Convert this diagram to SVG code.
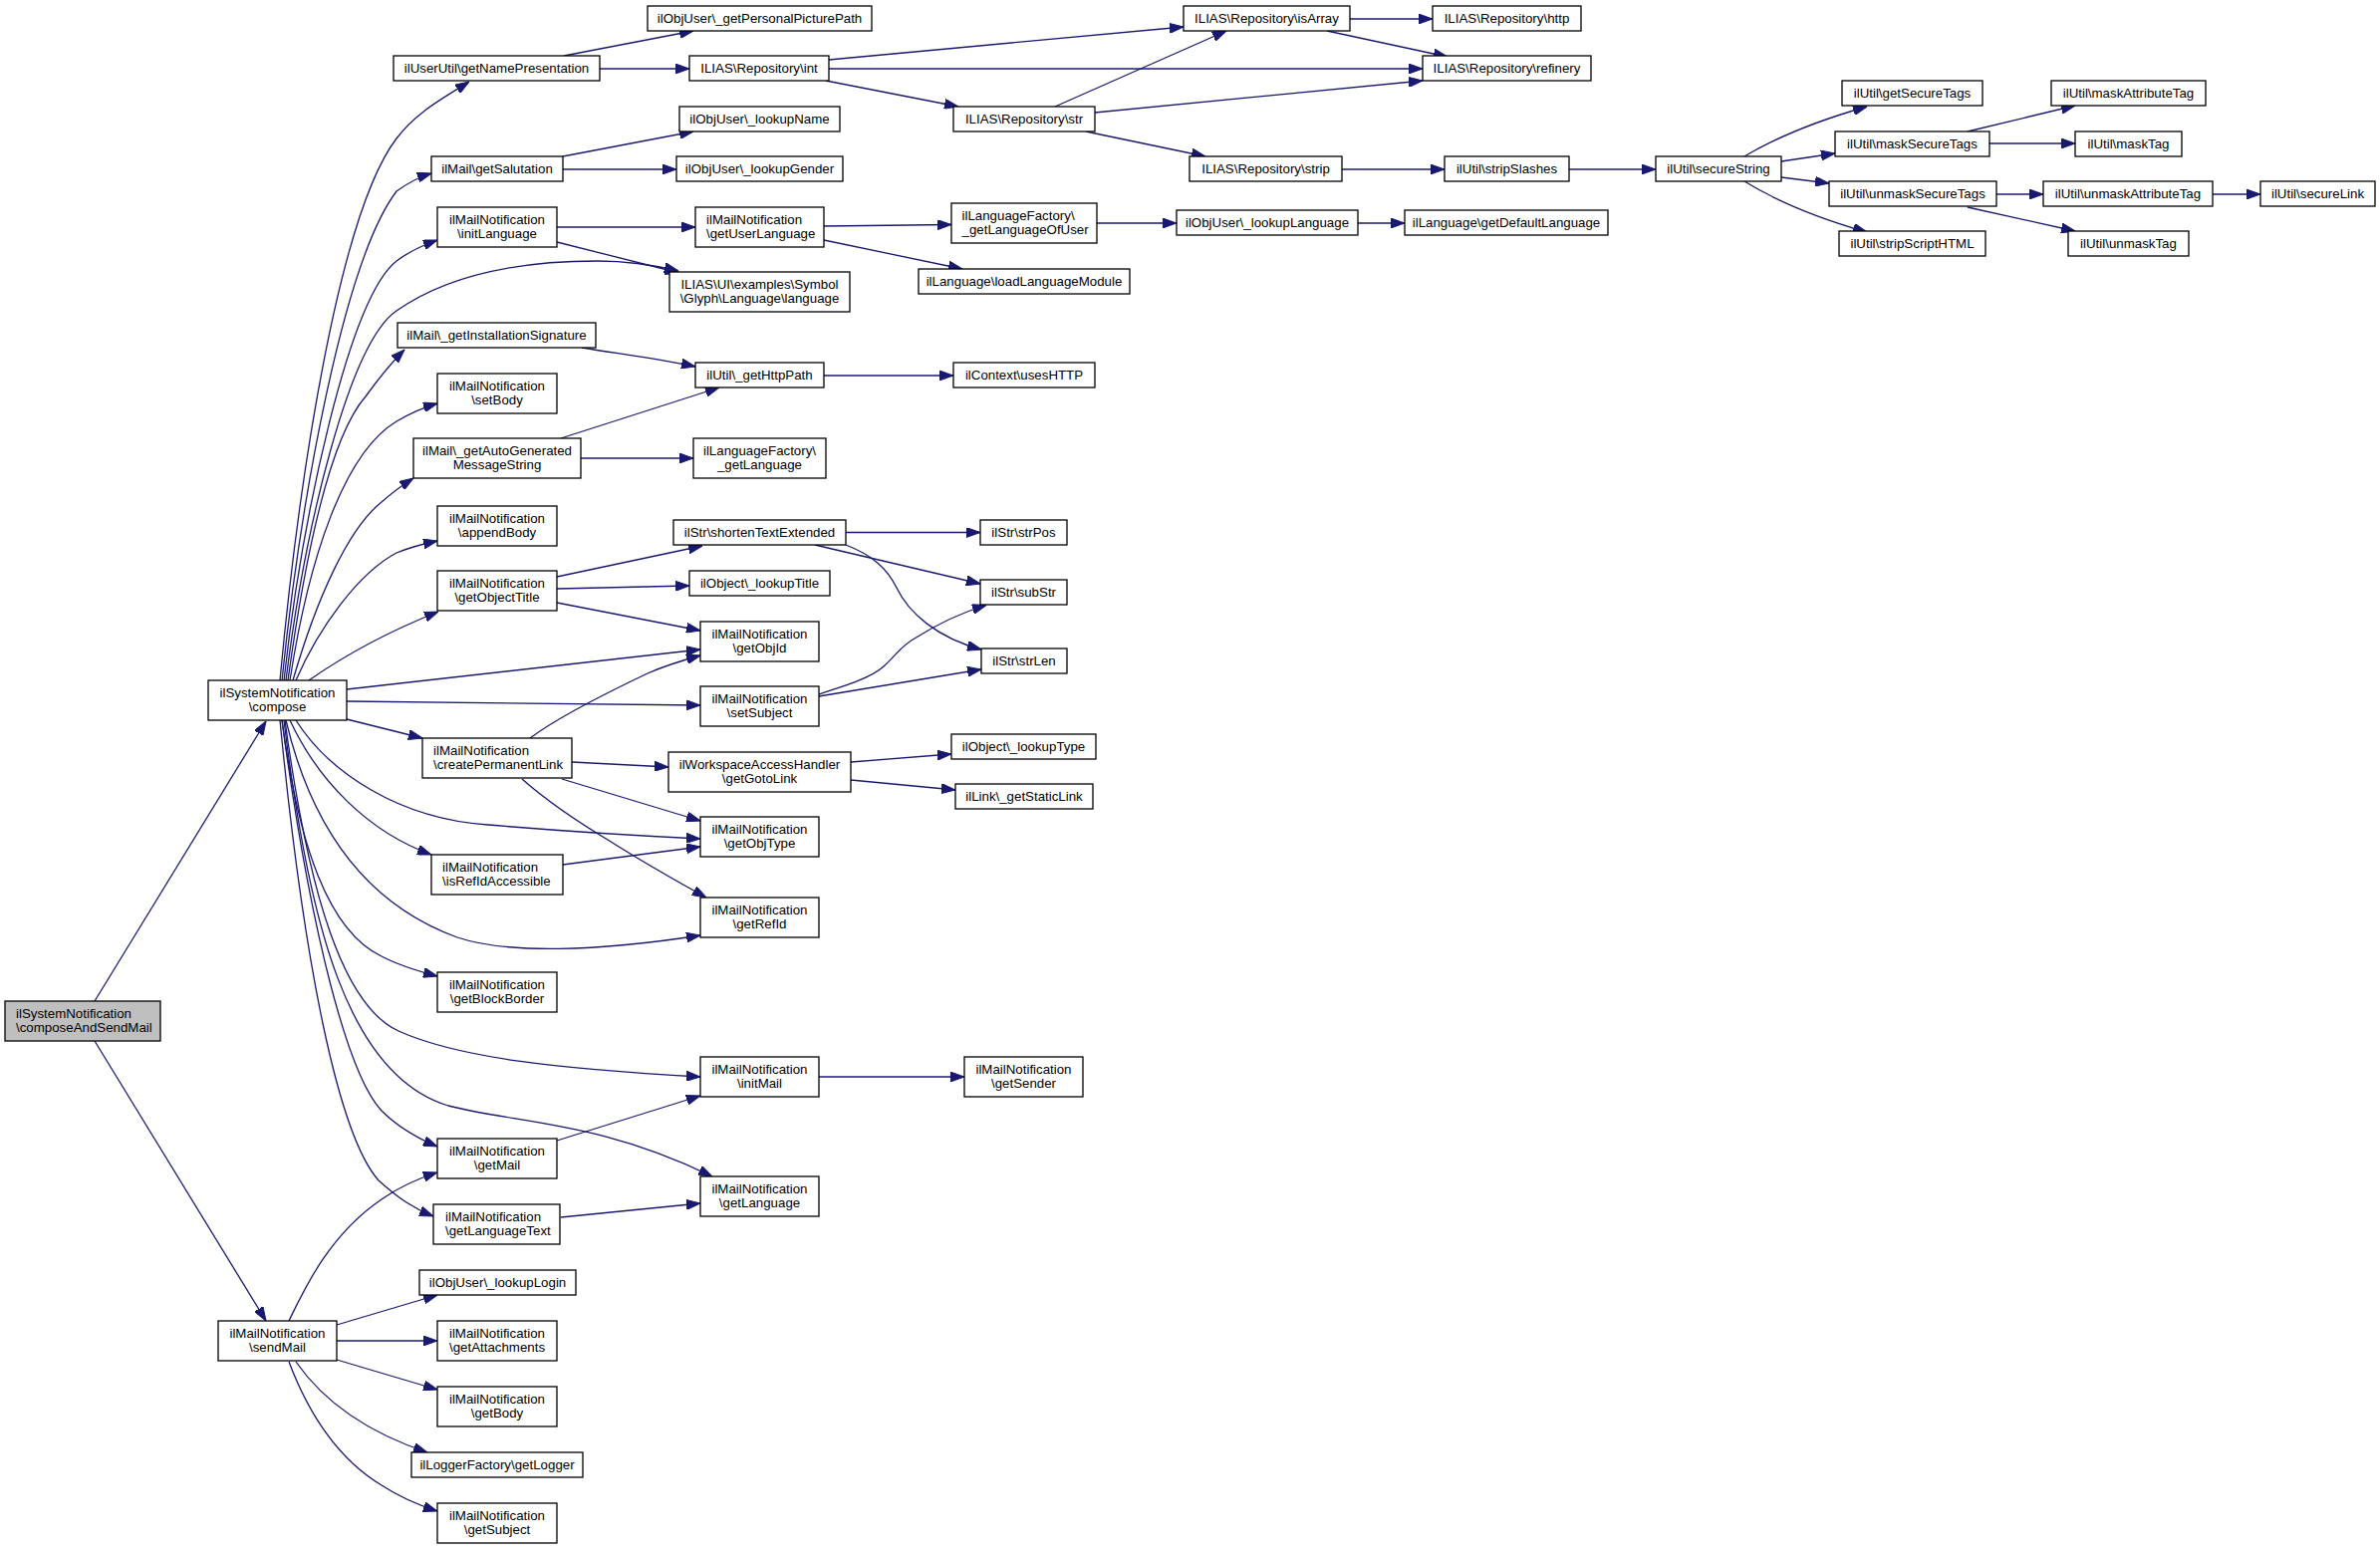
<svg xmlns="http://www.w3.org/2000/svg" width="2389" height="1555" viewBox="0 0 2389 1555">
<style>
.n rect{fill:#fff;stroke:#000;stroke-width:1.3}
.root rect{fill:#bfbfbf}
text{font-family:"Liberation Sans",Arial,Helvetica,sans-serif;font-size:13.3px;fill:#000}
.c{text-anchor:middle}
.s{text-anchor:start}
#edges path{fill:none;stroke:#191970;stroke-width:1.3;marker-end:url(#ah)}
</style>
<defs>
<marker id="ah" viewBox="0 0 14 10" refX="14" refY="5" markerWidth="14" markerHeight="10" orient="auto" markerUnits="userSpaceOnUse"><path d="M0,0 L14,5 L0,10 z" fill="#191970" stroke="#191970" stroke-width="1"/></marker>
</defs>
<rect width="2389" height="1555" fill="#fff"/>
<g id="edges">
<path d="M95,1005 L267,724"/>
<path d="M95,1045 L267,1326"/>
<path d="M281,683 C300,480 340,215 398,139 C418,113 442,100 471,82"/>
<path d="M283,683 C302,500 345,262 398,192 C409,184 420,178 433,174"/>
<path d="M285,683 C303,520 350,300 398,262 C410,253 425,246 439,241"/>
<path d="M287,683 C306,530 350,345 398,312 C455,272 530,262 600,262 C630,262 660,267 681,272"/>
<path d="M289,683 C306,560 330,440 367,398 C380,380 393,364 406,351"/>
<path d="M291,683 C310,560 345,455 398,423 C411,415 425,409 439,405"/>
<path d="M294,683 C318,600 350,530 383,504 C393,495 404,487 415,480"/>
<path d="M297,683 C320,630 360,575 398,555 C410,550 425,546 439,543"/>
<path d="M310,683 C340,662 380,638 440,614"/>
<path d="M348,692 L703,652"/>
<path d="M348,704 L703,708"/>
<path d="M348,722 L424,741"/>
<path d="M297,723 C330,775 400,822 490,828 C560,834 620,838 703,842"/>
<path d="M291,723 C320,785 370,835 433,858"/>
<path d="M287,723 C310,820 360,905 459,941 C510,958 600,955 703,939"/>
<path d="M283,723 C300,850 330,935 383,960 C400,969 420,975 439,980"/>
<path d="M286,723 C310,900 345,1010 400,1035 C460,1062 560,1073 703,1081"/>
<path d="M285,723 C310,930 350,1080 450,1110 C520,1128 600,1125 715,1181"/>
<path d="M283,723 C312,940 350,1080 383,1115 C400,1132 420,1143 439,1151"/>
<path d="M281,723 C305,970 340,1140 380,1185 C400,1203 415,1213 435,1221"/>
<path d="M290,1326 C305,1295 330,1240 383,1204 C400,1192 420,1183 439,1177"/>
<path d="M338,1330 L439,1300"/>
<path d="M338,1346 L439,1346"/>
<path d="M338,1365 L439,1395"/>
<path d="M297,1367 C320,1400 360,1435 429,1458"/>
<path d="M290,1367 C310,1420 340,1465 383,1491 C400,1502 420,1511 439,1517"/>
<path d="M566,56 L696,31"/>
<path d="M602,69 L692,69"/>
<path d="M832,60 L1188,27"/>
<path d="M832,69 L1428,69"/>
<path d="M829,81 L962,107"/>
<path d="M1355,19 L1438,19"/>
<path d="M1332,31 L1453,57"/>
<path d="M1059,107 L1231,31"/>
<path d="M1099,113 L1428,81"/>
<path d="M1090,132 L1210,157"/>
<path d="M1347,170 L1450,170"/>
<path d="M1575,170 L1662,170"/>
<path d="M1751,157 Q1800,128 1874,107"/>
<path d="M1788,162 L1842,154"/>
<path d="M1788,178 L1836,184"/>
<path d="M1751,182 Q1800,212 1874,233"/>
<path d="M1975,132 L2083,106"/>
<path d="M1997,144 L2083,144"/>
<path d="M2004,195 L2051,195"/>
<path d="M1975,208 L2083,232"/>
<path d="M2221,195 L2269,195"/>
<path d="M565,157 L696,132"/>
<path d="M565,170 L679,170"/>
<path d="M559,228 L698,228"/>
<path d="M559,243 L682,274"/>
<path d="M827,227 L955,225.5"/>
<path d="M827,241 L966,270"/>
<path d="M1101,224 L1181,224"/>
<path d="M1363,224 L1410,224"/>
<path d="M584,349 C620,355 660,360 698,368"/>
<path d="M563,440 L722,389"/>
<path d="M583,460 L696,460"/>
<path d="M827,377 L957,377"/>
<path d="M559,579 L705,548"/>
<path d="M559,591 L692,588"/>
<path d="M559,605 L703,633"/>
<path d="M849,534.5 L984,534.5"/>
<path d="M818,547 L984,586"/>
<path d="M849,547 C875,557 890,570 900,590 C912,615 940,640 985,652"/>
<path d="M822,697 C850,688 875,680 887,669 C900,657 905,648 918,641 C940,627 965,615 990,607.5"/>
<path d="M822,699 L985,672"/>
<path d="M532,741 C560,720 610,695 650,676 C668,668 685,663 703,658"/>
<path d="M574,765 L671,770"/>
<path d="M564,782 L703,824"/>
<path d="M524,782 C550,805 580,825 610,843 C640,862 680,885 709,901"/>
<path d="M565,868 L703,850"/>
<path d="M854,765 L955,757"/>
<path d="M854,783 L959,793"/>
<path d="M822,1081 L968,1081"/>
<path d="M559,1145 L703,1100"/>
<path d="M563,1222 L703,1208"/>
</g>
<g id="n_root" class="n root"><rect x="5" y="1005" width="156" height="40"/><text class="s" x="16" y="1022">ilSystemNotification</text><text class="s" x="16" y="1036">\composeAndSendMail</text></g>
<g id="n_compose" class="n"><rect x="209" y="683" width="139" height="40"/><text class="c" x="278.5" y="700">ilSystemNotification</text><text class="c" x="278.5" y="714">\compose</text></g>
<g id="n_sendMail" class="n"><rect x="219" y="1326" width="119" height="40"/><text class="c" x="278.5" y="1343">ilMailNotification</text><text class="c" x="278.5" y="1357">\sendMail</text></g>
<g id="n_getNamePresentation" class="n"><rect x="395" y="56" width="207" height="25"/><text class="c" x="498.5" y="73">ilUserUtil\getNamePresentation</text></g>
<g id="n_getPersonalPicturePath" class="n"><rect x="650" y="6" width="225" height="25"/><text class="c" x="762.5" y="23">ilObjUser\_getPersonalPicturePath</text></g>
<g id="n_int" class="n"><rect x="692" y="56" width="140" height="25"/><text class="c" x="762" y="73">ILIAS\Repository\int</text></g>
<g id="n_isArray" class="n"><rect x="1188" y="6" width="167" height="25"/><text class="c" x="1271.5" y="23">ILIAS\Repository\isArray</text></g>
<g id="n_http" class="n"><rect x="1438" y="6" width="149" height="25"/><text class="c" x="1512.5" y="23">ILIAS\Repository\http</text></g>
<g id="n_refinery" class="n"><rect x="1428" y="56" width="169" height="25"/><text class="c" x="1512.5" y="73">ILIAS\Repository\refinery</text></g>
<g id="n_str" class="n"><rect x="957" y="107" width="142" height="25"/><text class="c" x="1028" y="124">ILIAS\Repository\str</text></g>
<g id="n_strip" class="n"><rect x="1194" y="157" width="153" height="25"/><text class="c" x="1270.5" y="174">ILIAS\Repository\strip</text></g>
<g id="n_stripSlashes" class="n"><rect x="1450" y="157" width="125" height="25"/><text class="c" x="1512.5" y="174">ilUtil\stripSlashes</text></g>
<g id="n_secureString" class="n"><rect x="1662" y="157" width="126" height="25"/><text class="c" x="1725" y="174">ilUtil\secureString</text></g>
<g id="n_getSecureTags" class="n"><rect x="1849" y="81" width="141" height="25"/><text class="c" x="1919.5" y="98">ilUtil\getSecureTags</text></g>
<g id="n_maskSecureTags" class="n"><rect x="1842" y="132" width="155" height="25"/><text class="c" x="1919.5" y="149">ilUtil\maskSecureTags</text></g>
<g id="n_unmaskSecureTags" class="n"><rect x="1836" y="182" width="168" height="25"/><text class="c" x="1920" y="199">ilUtil\unmaskSecureTags</text></g>
<g id="n_stripScriptHTML" class="n"><rect x="1846" y="232" width="147" height="25"/><text class="c" x="1919.5" y="249">ilUtil\stripScriptHTML</text></g>
<g id="n_maskAttributeTag" class="n"><rect x="2059" y="81" width="155" height="25"/><text class="c" x="2136.5" y="98">ilUtil\maskAttributeTag</text></g>
<g id="n_maskTag" class="n"><rect x="2083" y="132" width="107" height="25"/><text class="c" x="2136.5" y="149">ilUtil\maskTag</text></g>
<g id="n_unmaskAttributeTag" class="n"><rect x="2051" y="182" width="170" height="25"/><text class="c" x="2136" y="199">ilUtil\unmaskAttributeTag</text></g>
<g id="n_secureLink" class="n"><rect x="2269" y="182" width="115" height="25"/><text class="c" x="2326.5" y="199">ilUtil\secureLink</text></g>
<g id="n_unmaskTag" class="n"><rect x="2076" y="232" width="121" height="25"/><text class="c" x="2136.5" y="249">ilUtil\unmaskTag</text></g>
<g id="n_getSalutation" class="n"><rect x="433" y="157" width="132" height="25"/><text class="c" x="499" y="174">ilMail\getSalutation</text></g>
<g id="n_lookupName" class="n"><rect x="682" y="107" width="161" height="25"/><text class="c" x="762.5" y="124">ilObjUser\_lookupName</text></g>
<g id="n_lookupGender" class="n"><rect x="679" y="157" width="167" height="25"/><text class="c" x="762.5" y="174">ilObjUser\_lookupGender</text></g>
<g id="n_initLanguage" class="n"><rect x="439" y="208" width="120" height="40"/><text class="c" x="499" y="225">ilMailNotification</text><text class="c" x="499" y="239">\initLanguage</text></g>
<g id="n_getUserLanguage" class="n"><rect x="698" y="208" width="129" height="40"/><text class="s" x="709" y="225">ilMailNotification</text><text class="s" x="709" y="239">\getUserLanguage</text></g>
<g id="n_getLanguageOfUser" class="n"><rect x="955" y="204" width="146" height="40"/><text class="s" x="965.5" y="221">ilLanguageFactory\</text><text class="s" x="965.5" y="235">_getLanguageOfUser</text></g>
<g id="n_lookupLanguage" class="n"><rect x="1181" y="211" width="182" height="25"/><text class="c" x="1272" y="228">ilObjUser\_lookupLanguage</text></g>
<g id="n_getDefaultLanguage" class="n"><rect x="1410" y="211" width="204" height="25"/><text class="c" x="1512" y="228">ilLanguage\getDefaultLanguage</text></g>
<g id="n_loadLanguageModule" class="n"><rect x="922" y="270" width="212" height="25"/><text class="c" x="1028" y="287">ilLanguage\loadLanguageModule</text></g>
<g id="n_language" class="n"><rect x="672" y="273" width="181" height="40"/><text class="c" x="762.5" y="290">ILIAS\UI\examples\Symbol</text><text class="c" x="762.5" y="304">\Glyph\Language\language</text></g>
<g id="n_getInstallationSignature" class="n"><rect x="399" y="324" width="199" height="25"/><text class="c" x="498.5" y="341">ilMail\_getInstallationSignature</text></g>
<g id="n_getHttpPath" class="n"><rect x="698" y="364" width="129" height="25"/><text class="c" x="762.5" y="381">ilUtil\_getHttpPath</text></g>
<g id="n_usesHTTP" class="n"><rect x="957" y="364" width="142" height="25"/><text class="c" x="1028" y="381">ilContext\usesHTTP</text></g>
<g id="n_setBody" class="n"><rect x="439" y="375" width="120" height="40"/><text class="c" x="499" y="392">ilMailNotification</text><text class="c" x="499" y="406">\setBody</text></g>
<g id="n_getAutoGeneratedMessageString" class="n"><rect x="415" y="440" width="168" height="40"/><text class="c" x="499" y="457">ilMail\_getAutoGenerated</text><text class="c" x="499" y="471">MessageString</text></g>
<g id="n_getLanguageFactory" class="n"><rect x="696" y="440" width="133" height="40"/><text class="c" x="762.5" y="457">ilLanguageFactory\</text><text class="c" x="762.5" y="471">_getLanguage</text></g>
<g id="n_appendBody" class="n"><rect x="439" y="508" width="120" height="40"/><text class="c" x="499" y="525">ilMailNotification</text><text class="c" x="499" y="539">\appendBody</text></g>
<g id="n_getObjectTitle" class="n"><rect x="439" y="573" width="120" height="40"/><text class="c" x="499" y="590">ilMailNotification</text><text class="c" x="499" y="604">\getObjectTitle</text></g>
<g id="n_createPermanentLink" class="n"><rect x="424" y="741" width="150" height="40"/><text class="s" x="435" y="758">ilMailNotification</text><text class="s" x="435" y="772">\createPermanentLink</text></g>
<g id="n_isRefIdAccessible" class="n"><rect x="433" y="858" width="132" height="40"/><text class="s" x="444" y="875">ilMailNotification</text><text class="s" x="444" y="889">\isRefIdAccessible</text></g>
<g id="n_getBlockBorder" class="n"><rect x="439" y="976" width="120" height="40"/><text class="c" x="499" y="993">ilMailNotification</text><text class="c" x="499" y="1007">\getBlockBorder</text></g>
<g id="n_shortenTextExtended" class="n"><rect x="676" y="522" width="173" height="25"/><text class="c" x="762.5" y="539">ilStr\shortenTextExtended</text></g>
<g id="n_strPos" class="n"><rect x="984" y="522" width="87" height="25"/><text class="c" x="1027.5" y="539">ilStr\strPos</text></g>
<g id="n_lookupTitle" class="n"><rect x="692" y="573" width="141" height="25"/><text class="c" x="762.5" y="590">ilObject\_lookupTitle</text></g>
<g id="n_subStr" class="n"><rect x="984" y="582" width="87" height="25"/><text class="c" x="1027.5" y="599">ilStr\subStr</text></g>
<g id="n_getObjId" class="n"><rect x="703" y="624" width="119" height="40"/><text class="c" x="762.5" y="641">ilMailNotification</text><text class="c" x="762.5" y="655">\getObjId</text></g>
<g id="n_strLen" class="n"><rect x="985" y="651" width="86" height="25"/><text class="c" x="1028" y="668">ilStr\strLen</text></g>
<g id="n_setSubject" class="n"><rect x="703" y="689" width="119" height="40"/><text class="c" x="762.5" y="706">ilMailNotification</text><text class="c" x="762.5" y="720">\setSubject</text></g>
<g id="n_lookupType" class="n"><rect x="955" y="737" width="145" height="25"/><text class="c" x="1027.5" y="754">ilObject\_lookupType</text></g>
<g id="n_getGotoLink" class="n"><rect x="671" y="755" width="183" height="40"/><text class="c" x="762.5" y="772">ilWorkspaceAccessHandler</text><text class="c" x="762.5" y="786">\getGotoLink</text></g>
<g id="n_getStaticLink" class="n"><rect x="959" y="787" width="138" height="25"/><text class="c" x="1028" y="804">ilLink\_getStaticLink</text></g>
<g id="n_getObjType" class="n"><rect x="703" y="820" width="119" height="40"/><text class="c" x="762.5" y="837">ilMailNotification</text><text class="c" x="762.5" y="851">\getObjType</text></g>
<g id="n_getRefId" class="n"><rect x="703" y="901" width="119" height="40"/><text class="c" x="762.5" y="918">ilMailNotification</text><text class="c" x="762.5" y="932">\getRefId</text></g>
<g id="n_initMail" class="n"><rect x="703" y="1061" width="119" height="40"/><text class="c" x="762.5" y="1078">ilMailNotification</text><text class="c" x="762.5" y="1092">\initMail</text></g>
<g id="n_getSender" class="n"><rect x="968" y="1061" width="119" height="40"/><text class="c" x="1027.5" y="1078">ilMailNotification</text><text class="c" x="1027.5" y="1092">\getSender</text></g>
<g id="n_getLanguage" class="n"><rect x="703" y="1181" width="119" height="40"/><text class="c" x="762.5" y="1198">ilMailNotification</text><text class="c" x="762.5" y="1212">\getLanguage</text></g>
<g id="n_getMail" class="n"><rect x="439" y="1143" width="120" height="40"/><text class="c" x="499" y="1160">ilMailNotification</text><text class="c" x="499" y="1174">\getMail</text></g>
<g id="n_getLanguageText" class="n"><rect x="435" y="1209" width="127" height="40"/><text class="s" x="447" y="1226">ilMailNotification</text><text class="s" x="447" y="1240">\getLanguageText</text></g>
<g id="n_lookupLogin" class="n"><rect x="421" y="1275" width="157" height="25"/><text class="c" x="499.5" y="1292">ilObjUser\_lookupLogin</text></g>
<g id="n_getAttachments" class="n"><rect x="439" y="1326" width="120" height="40"/><text class="c" x="499" y="1343">ilMailNotification</text><text class="c" x="499" y="1357">\getAttachments</text></g>
<g id="n_getBody" class="n"><rect x="439" y="1392" width="120" height="40"/><text class="c" x="499" y="1409">ilMailNotification</text><text class="c" x="499" y="1423">\getBody</text></g>
<g id="n_getLogger" class="n"><rect x="413" y="1458" width="172" height="25"/><text class="c" x="499" y="1475">ilLoggerFactory\getLogger</text></g>
<g id="n_getSubject" class="n"><rect x="439" y="1509" width="120" height="40"/><text class="c" x="499" y="1526">ilMailNotification</text><text class="c" x="499" y="1540">\getSubject</text></g>
</svg>
